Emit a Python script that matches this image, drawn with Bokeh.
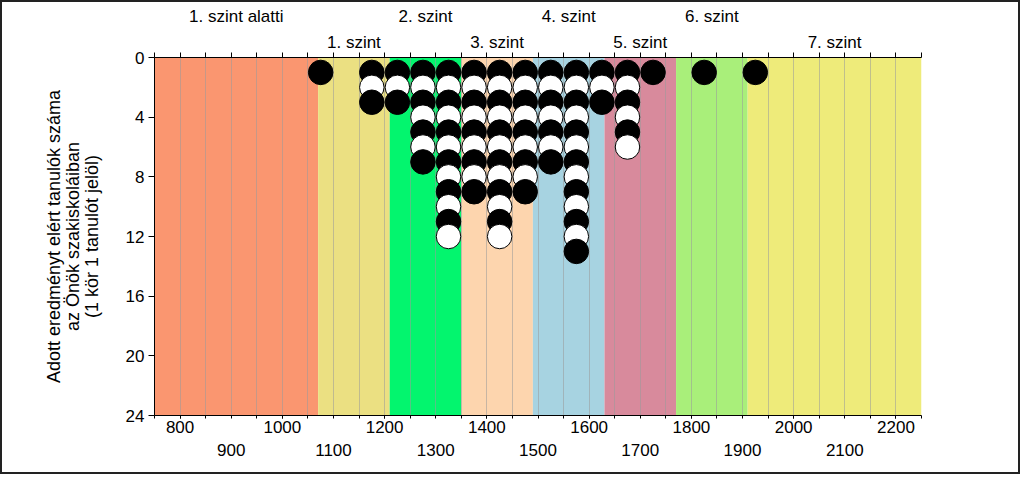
from bokeh.plotting import figure
from bokeh.models import Range1d, LinearAxis, FixedTicker, Grid
from bokeh.embed import file_html
from bokeh.resources import INLINE

# ---- data ----
band_edges = [750, 1070, 1210, 1350, 1490, 1630, 1770, 1910, 2250]
band_names = ["1. szint alatti", "1. szint", "2. szint", "3. szint",
              "4. szint", "5. szint", "6. szint", "7. szint"]
band_colors = ["#FA9670", "#EBE082", "#03F56E", "#FDD5AE",
               "#A7D3E1", "#D88A9C", "#A9EF7A", "#EEEB7A"]

bin_centers = [1075, 1125, 1175, 1225, 1275, 1325, 1375, 1425, 1475,
               1525, 1575, 1625, 1675, 1725, 1775, 1825, 1875, 1925]
counts = [1, 0, 3, 3, 7, 12, 9, 12, 9, 7, 13, 3, 6, 1, 0, 1, 0, 1]

y_ticks = [0, 4, 8, 12, 16, 20, 24]
x_ticks_all = list(range(750, 2251, 50))
x_labels_row1 = [800, 1000, 1200, 1400, 1600, 1800, 2000, 2200]
x_labels_row2 = [900, 1100, 1300, 1500, 1700, 1900, 2100]

y_title = "Adott eredményt elért tanulók száma\naz Önök szakiskoláiban\n(1 kör 1 tanulót jelöl)"

FONT = "Liberation Sans"
FS = "17px"

# ---- figure ----
p = figure(width=1020, height=474, x_range=Range1d(750, 2250), y_range=Range1d(24, 0),
           output_backend="svg", toolbar_location=None,
           x_axis_type=None, y_axis_type=None,
           min_border_left=152, min_border_right=101, min_border_top=55, min_border_bottom=61)
p.styles = {"border": "2px solid #222222"}
p.outline_line_color = None
p.background_fill_color = "white"
p.border_fill_color = "white"

# bands
p.quad(left=band_edges[:-1], right=band_edges[1:], top=0, bottom=24,
       fill_color=band_colors, line_color=None, level="image")

# vertical grid
grid = Grid(dimension=0, ticker=FixedTicker(ticks=x_ticks_all),
            grid_line_color="#9A9A9A", grid_line_alpha=0.55, grid_line_width=1)
p.add_layout(grid)

# dots
xs, ys, fills = [], [], []
for c, n in zip(bin_centers, counts):
    for k in range(1, n + 1):
        xs.append(c)
        ys.append(k)
        fills.append("black" if k % 2 == 1 else "white")
p.scatter(xs, ys, marker="circle", size=24.5, fill_color=fills,
          line_color="black", line_width=1)

# left axis
yax = LinearAxis(ticker=FixedTicker(ticks=y_ticks, minor_ticks=[]),
                 major_tick_out=6, major_tick_in=0, minor_tick_out=0,
                 major_label_standoff=4,
                 major_label_text_font=FONT, major_label_text_font_size=FS,
                 major_label_text_color="black",
                 axis_label=y_title, axis_label_text_font=FONT,
                 axis_label_text_font_size="18px", axis_label_text_font_style="normal",
                 axis_label_text_line_height=0.95,
                 axis_label_standoff=21, axis_label_text_color="black",
                 axis_line_color="black")
p.add_layout(yax, "left")

# level names: centers of bands, alternating two rows above the plot
centers = [(band_edges[i] + band_edges[i + 1]) / 2 for i in range(len(band_names))]
row_top = [(c, n) for i, (c, n) in enumerate(zip(centers, band_names)) if i % 2 == 0]
row_low = [(c, n) for i, (c, n) in enumerate(zip(centers, band_names)) if i % 2 == 1]

tax1 = LinearAxis(ticker=FixedTicker(ticks=[c for c, _ in row_low], minor_ticks=x_ticks_all),
                  major_tick_out=0, major_tick_in=0, minor_tick_out=5, minor_tick_in=0,
                  major_label_overrides={c: n for c, n in row_low},
                  major_label_standoff=1,
                  major_label_text_font=FONT, major_label_text_font_size=FS,
                  major_label_text_color="black", axis_line_color="black")
p.add_layout(tax1, "above")

tax2 = LinearAxis(ticker=FixedTicker(ticks=[c for c, _ in row_top], minor_ticks=[]),
                  major_tick_out=0, major_tick_in=0, minor_tick_out=0,
                  major_label_overrides={c: n for c, n in row_top},
                  major_label_standoff=4,
                  major_label_text_font=FONT, major_label_text_font_size=FS,
                  major_label_text_color="black", axis_line_color=None,
                  major_tick_line_color=None, minor_tick_line_color=None)
p.add_layout(tax2, "above")

# bottom axis row 1
bax1 = LinearAxis(ticker=FixedTicker(ticks=x_labels_row1, minor_ticks=x_ticks_all),
                  major_tick_out=3, major_tick_in=0, minor_tick_out=3, minor_tick_in=0,
                  major_label_standoff=2,
                  major_label_text_font=FONT, major_label_text_font_size=FS,
                  major_label_text_color="black", axis_line_color="black")
p.add_layout(bax1, "below")

# bottom axis row 2
bax2 = LinearAxis(ticker=FixedTicker(ticks=x_labels_row2, minor_ticks=[]),
                  major_tick_out=0, major_tick_in=0, minor_tick_out=0,
                  major_label_standoff=8,
                  major_label_text_font=FONT, major_label_text_font_size=FS,
                  major_label_text_color="black", axis_line_color=None,
                  major_tick_line_color=None, minor_tick_line_color=None)
p.add_layout(bax2, "below")

open("out.html", "w").write(file_html(p, INLINE))
